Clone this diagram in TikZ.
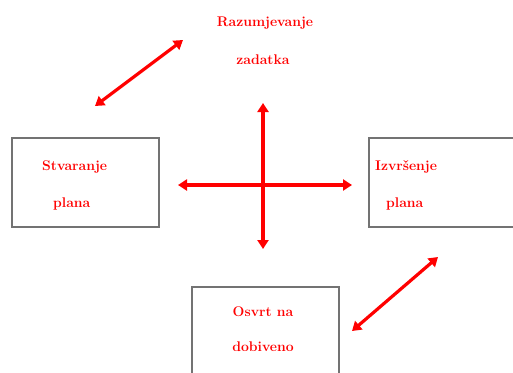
\documentclass[tikz,border=0pt]{standalone}
\usetikzlibrary{arrows.meta}
\begin{document}
\begin{tikzpicture}[x=1pt,y=-1pt,
  box/.style={draw=black!55,line width=1.2pt,fill=white},
  lbl/.style={text=red,font=\fontsize{14}{16}\selectfont\bfseries,inner sep=0pt},
  arr/.style={draw=red,line width=3.2pt,{Triangle[length=9pt,width=11pt]}-{Triangle[length=9pt,width=11pt]}}]
\useasboundingbox (0,0) rectangle (513,372);
\begin{scope}
\clip (0,0) rectangle (513,372);
\draw[box] (12,138) rectangle (159,227);
\draw[box] (369,138) rectangle (530,227);
\draw[box] (192,287) rectangle (339,390);
\end{scope}
\node[lbl] (raz) at (265,23) {Razumjevanje};
\node[lbl] (zad) at (263,60) {zadatka};
\node[lbl,anchor=west] (stv) at (42,167) {Stvaranje};
\node[lbl,anchor=west] (pl1) at (53,204) {plana};
\node[lbl,anchor=west] (izv) at (375,167) {Izvršenje};
\node[lbl,anchor=west] (pl2) at (386,204) {plana};
\node[lbl] (osv) at (263,312) {Osvrt na};
\node[lbl] (dob) at (263,347) {dobiveno};
\coordinate (a1) at (95,106);
\coordinate (a2) at (183,40);
\coordinate (v1) at (263,103);
\coordinate (v2) at (263,249);
\coordinate (h1) at (178,185);
\coordinate (h2) at (352,185);
\coordinate (b1) at (352,331);
\coordinate (b2) at (438,257);
\draw[arr] (a1) -- (a2);
\draw[arr] (v1) -- (v2);
\draw[arr] (h1) -- (h2);
\draw[arr] (b1) -- (b2);
\end{tikzpicture}
\end{document}
